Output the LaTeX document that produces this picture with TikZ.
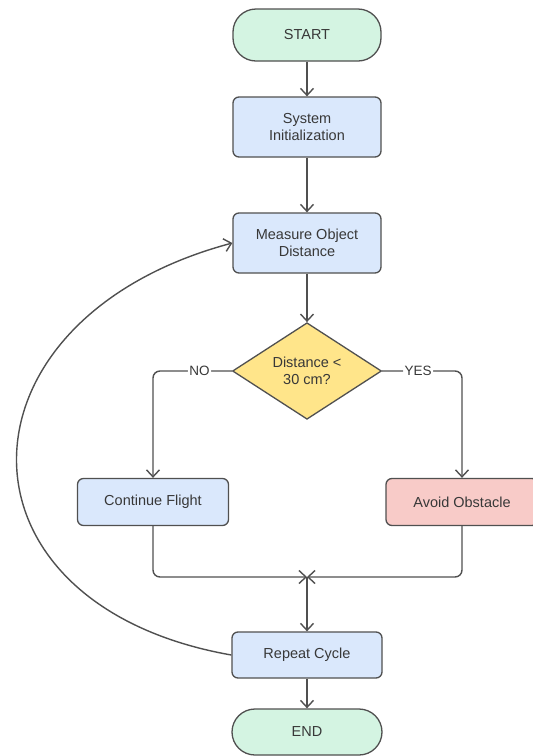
\documentclass[tikz,border=0pt]{standalone}
\usepackage{fontspec}
\setmainfont{Liberation Sans}
\usetikzlibrary{shapes.geometric,arrows.meta}
\definecolor{edgecol}{HTML}{505050}
\definecolor{txtcol}{HTML}{383838}
\definecolor{greenfill}{HTML}{D4F4E2}
\definecolor{bluefill}{HTML}{DAE8FC}
\definecolor{yellowfill}{HTML}{FFE58A}
\definecolor{redfill}{HTML}{F8CBC8}
\begin{document}
\begin{tikzpicture}[x=1pt,y=-1pt,
  font=\fontsize{14.5}{17}\selectfont,
  box/.style={draw=edgecol, line width=1.3pt, rounded corners=6pt, align=center, inner sep=0pt, text=txtcol, fill=bluefill},
  pill/.style={box, rounded corners=23pt, fill=greenfill},
  decision/.style={diamond, draw=edgecol, line width=1.3pt, fill=yellowfill, align=center, inner sep=0pt, text=txtcol},
  conn/.style={draw=edgecol, line width=1.4pt, -{Straight Barb[length=7pt,width=13pt]}},
  lbl/.style={fill=white, inner sep=1.5pt, text=txtcol, font=\fontsize{13.5}{15}\selectfont}]
\useasboundingbox (0,0) rectangle (533,756);
\fill[white] (0,0) rectangle (533,756);

\node[pill, minimum width=148pt, minimum height=52pt] (start) at (307,35) {START};
\node[box, minimum width=148pt, minimum height=60pt] (init) at (307,127) {System\\Initialization};
\node[box, minimum width=148pt, minimum height=60pt] (meas) at (307,243) {Measure Object\\Distance};
\node[decision, minimum width=149pt, minimum height=85pt] (dec) at (307,371) {Distance <\\30 cm?};
\node[box, minimum width=151pt, minimum height=47pt] (cont) at (153,502) {Continue Flight};
\node[box, minimum width=152pt, minimum height=47pt, fill=redfill] (avoid) at (462,502) {Avoid Obstacle};
\node[box, minimum width=150pt, minimum height=46pt] (rep) at (307,655) {Repeat Cycle};
\node[pill, minimum width=150pt, minimum height=46pt] (end) at (307,732) {END};
\coordinate (j) at (307,577);

\draw[conn] (start) -- (init);
\draw[conn] (init) -- (meas);
\draw[conn] (meas) -- (dec);
\draw[conn, rounded corners=7pt] (dec.west) -| node[lbl, pos=0.205] {NO} (cont.north);
\draw[conn, rounded corners=7pt] (dec.east) -| node[lbl, pos=0.225] {YES} (avoid.north);
\draw[conn, rounded corners=7pt] (cont.south) |- (j);
\draw[conn, rounded corners=7pt] (avoid.south) |- (j);
\draw[conn] (j) -- (rep.north);
\draw[conn] (rep) -- (end);
\draw[conn] (rep.west) .. controls (-58,604) and (-52,319) .. (meas.west);
\end{tikzpicture}
\end{document}
